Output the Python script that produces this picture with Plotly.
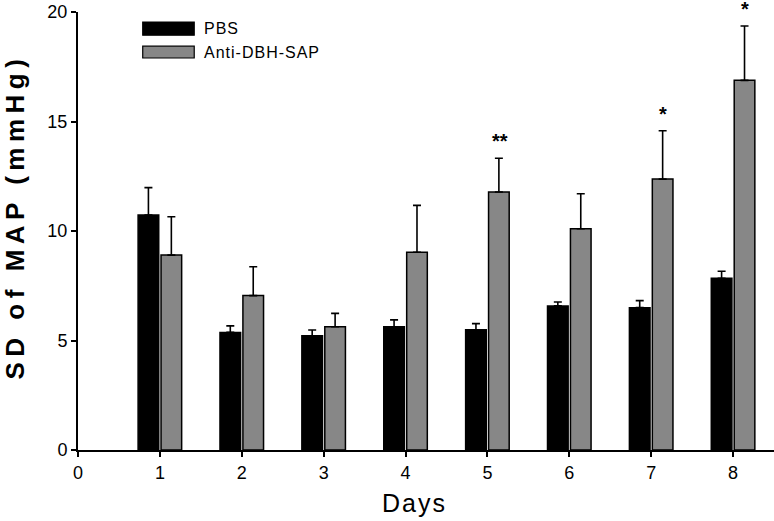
import plotly.graph_objects as go

days = [1, 2, 3, 4, 5, 6, 7, 8]
pbs_mean = [10.73, 5.37, 5.22, 5.63, 5.49, 6.58, 6.50, 7.84]
pbs_err = [1.25, 0.30, 0.26, 0.31, 0.28, 0.18, 0.32, 0.32]
sap_mean = [8.90, 7.05, 5.63, 9.03, 11.78, 10.10, 12.37, 16.88]
sap_err = [1.75, 1.32, 0.61, 2.14, 1.54, 1.60, 2.21, 2.48]
signif = ["", "", "", "", "**", "", "*", "*"]
x_ticks = [0, 1, 2, 3, 4, 5, 6, 7, 8]
y_ticks = [0, 5, 10, 15, 20]
series_names = ["PBS", "Anti-DBH-SAP"]
x_title = "Days"
y_title = "SD of MAP (mmHg)"

BLACK = "#000000"
GRAY = "#878787"
FONT = "Liberation Sans, Arial"
TICKFONT = dict(family=FONT, size=18, color="black")

fig = go.Figure()
fig.add_trace(go.Bar(
    x=days, y=pbs_mean, name=series_names[0],
    marker=dict(color=BLACK, line=dict(color=BLACK, width=1.5)),
    error_y=dict(type="data", array=pbs_err, arrayminus=[0]*len(days), symmetric=False,
                 color=BLACK, thickness=1.6, width=4),
    showlegend=False,
))
fig.add_trace(go.Bar(
    x=days, y=sap_mean, name=series_names[1],
    marker=dict(color=GRAY, line=dict(color=BLACK, width=1.5)),
    error_y=dict(type="data", array=sap_err, arrayminus=[0]*len(days), symmetric=False,
                 color=BLACK, thickness=1.6, width=4),
    showlegend=False,
))

# significance markers
for d, m, e, s in zip(days, sap_mean, sap_err, signif):
    if s:
        fig.add_annotation(x=d + 0.15, y=m + e, text="<b>" + s + "</b>", showarrow=False, yshift=17,
                           font=dict(family=FONT, size=20, color="black"))

# legend drawn manually
leg = [(BLACK, 0.977, 0.947, 0.962), (GRAY, 0.922, 0.895, 0.908)]
for (col, y1, y0, yc), nm in zip(leg, series_names):
    fig.add_shape(type="rect", xref="paper", yref="paper", x0=0.093, x1=0.167, y0=y0, y1=y1,
                  fillcolor=col, line=dict(color=BLACK, width=1.2))
    fig.add_annotation(xref="paper", yref="paper", x=0.178, y=yc,
                       text='<span style="letter-spacing:1px">' + nm + "</span>",
                       showarrow=False, xanchor="left", yanchor="middle",
                       font=dict(family=FONT, size=16, color="black"))

# axis titles
fig.add_annotation(xref="paper", yref="paper", x=-0.09, y=0.534,
                   text='<span style="letter-spacing:5.5px"><b>' + y_title + "</b></span>",
                   textangle=-90, showarrow=False, xanchor="center", yanchor="middle",
                   font=dict(family=FONT, size=26, color="black"))
fig.add_annotation(xref="paper", yref="paper", x=0.484, y=-0.121,
                   text='<span style="letter-spacing:2px">' + x_title + "</span>",
                   showarrow=False, xanchor="center", yanchor="middle",
                   font=dict(family=FONT, size=25, color="black"))

fig.update_layout(
    width=774, height=521,
    margin=dict(l=78, r=0, t=12, b=71),
    paper_bgcolor="white", plot_bgcolor="white",
    barmode="group", bargap=0.44, bargroupgap=0.1,
    xaxis=dict(range=[0, 8.5], tickmode="array", tickvals=x_ticks, automargin=False,
               showline=True, linecolor="black", linewidth=2,
               ticks="outside", ticklen=5, tickwidth=1.5, tickcolor="black",
               showgrid=False, zeroline=False, tickfont=TICKFONT),
    yaxis=dict(range=[0, 20], tickmode="array", tickvals=y_ticks, automargin=False,
               showline=True, linecolor="black", linewidth=2,
               ticks="outside", ticklen=5, tickwidth=1.5, tickcolor="black",
               showgrid=False, zeroline=False, tickfont=TICKFONT),
)
fig.update_traces(cliponaxis=False)

fig.write_html("out.html", config={"displayModeBar": False},
               post_script="document.body.style.margin='0';document.body.style.overflow='hidden';")
